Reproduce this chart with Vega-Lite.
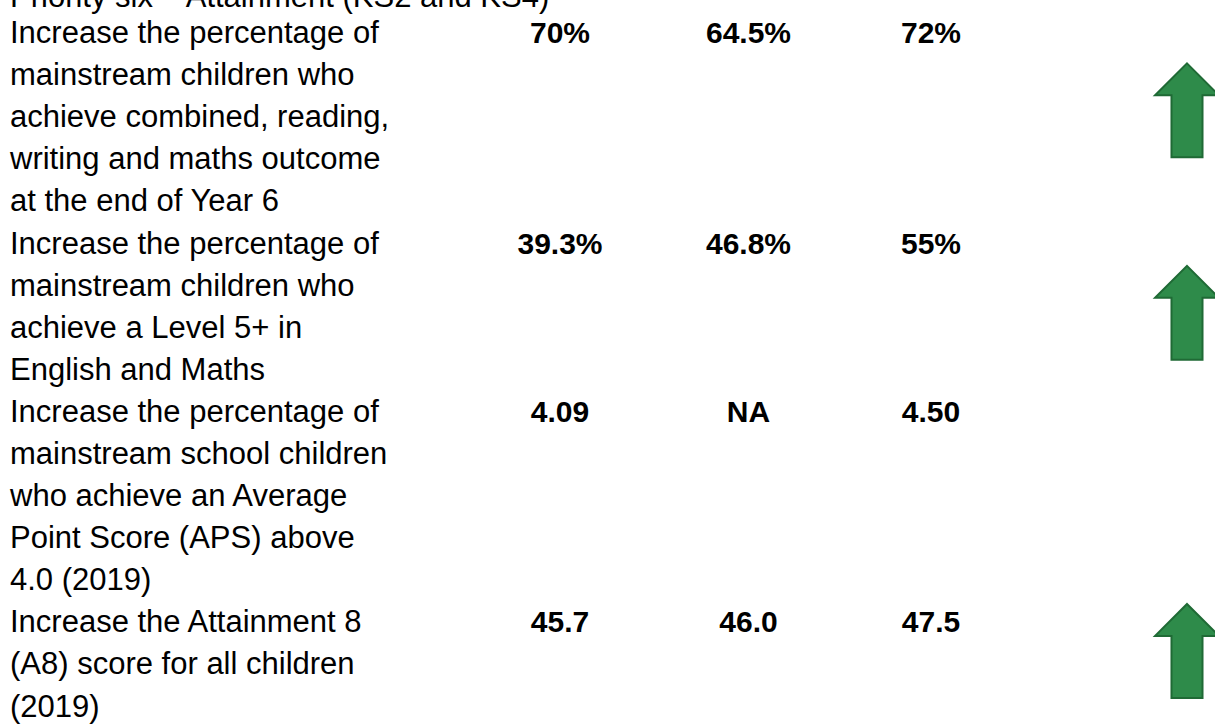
{
  "$schema": "https://vega.github.io/schema/vega-lite/v6.json",
  "width": 1215,
  "height": 724,
  "padding": 0,
  "autosize": {"type": "none"},
  "background": "white",
  "config": {"view": {"stroke": null}},
  "data": {
    "values": [
      {"line": 0, "label": "Increase the percentage of\nmainstream children who\nachieve combined, reading,\nwriting and maths outcome\nat the end of Year 6", "baseline": "70%", "current": "64.5%", "target": "72%", "arrowLine": 1.6},
      {"line": 5, "label": "Increase the percentage of\nmainstream children who\nachieve a Level 5+ in\nEnglish and Maths", "baseline": "39.3%", "current": "46.8%", "target": "55%", "arrowLine": 6.41},
      {"line": 9, "label": "Increase the percentage of\nmainstream school children\nwho achieve an Average\nPoint Score (APS) above\n4.0 (2019)", "baseline": "4.09", "current": "NA", "target": "4.50", "arrowLine": null},
      {"line": 14, "label": "Increase the Attainment 8\n(A8) score for all children\n(2019)", "baseline": "45.7", "current": "46.0", "target": "47.5", "arrowLine": 14.44}
    ]
  },
  "layer": [
    {
      "data": {"values": [{"line": -0.855, "text": "Priority six – Attainment (KS2 and KS4)"}]},
      "mark": {"type": "text", "align": "left", "baseline": "alphabetic", "font": "Liberation Sans", "fontSize": 31, "color": "#000000"},
      "encoding": {
        "x": {"datum": 0, "type": "quantitative", "scale": {"type": "linear", "domain": [0, 1, 2, 3, 4], "range": [10, 560, 748.5, 931, 1187]}, "axis": null},
        "y": {"field": "line", "type": "quantitative", "scale": {"type": "linear", "domain": [0, 16], "range": [43, 716.6], "zero": false, "nice": false}, "axis": null},
        "text": {"field": "text"}
      }
    },
    {
      "mark": {"type": "text", "align": "left", "baseline": "alphabetic", "font": "Liberation Sans", "fontSize": 31, "lineBreak": "\n", "lineHeight": 42.1, "color": "#000000"},
      "encoding": {
        "x": {"datum": 0, "type": "quantitative", "scale": {"type": "linear", "domain": [0, 1, 2, 3, 4], "range": [10, 560, 748.5, 931, 1187]}, "axis": null},
        "y": {"field": "line", "type": "quantitative", "scale": {"type": "linear", "domain": [0, 16], "range": [43, 716.6], "zero": false, "nice": false}, "axis": null},
        "text": {"field": "label"}
      }
    },
    {
      "mark": {"type": "text", "align": "center", "baseline": "alphabetic", "font": "Liberation Sans", "fontSize": 30, "fontWeight": "bold", "color": "#000000"},
      "encoding": {
        "x": {"datum": 1, "type": "quantitative", "axis": null},
        "y": {"field": "line", "type": "quantitative", "axis": null},
        "text": {"field": "baseline"}
      }
    },
    {
      "mark": {"type": "text", "align": "center", "baseline": "alphabetic", "font": "Liberation Sans", "fontSize": 30, "fontWeight": "bold", "color": "#000000"},
      "encoding": {
        "x": {"datum": 2, "type": "quantitative", "axis": null},
        "y": {"field": "line", "type": "quantitative", "axis": null},
        "text": {"field": "current"}
      }
    },
    {
      "mark": {"type": "text", "align": "center", "baseline": "alphabetic", "font": "Liberation Sans", "fontSize": 30, "fontWeight": "bold", "color": "#000000"},
      "encoding": {
        "x": {"datum": 3, "type": "quantitative", "axis": null},
        "y": {"field": "line", "type": "quantitative", "axis": null},
        "text": {"field": "target"}
      }
    },
    {
      "mark": {"type": "point", "shape": "M0,-1L0.68,-0.32L0.33,-0.32L0.33,1L-0.33,1L-0.33,-0.32L-0.68,-0.32Z", "size": 8836, "filled": true, "fill": "#2e8b4a", "stroke": "#1f6a35", "strokeWidth": 2, "opacity": 1, "fillOpacity": 1},
      "encoding": {
        "x": {"datum": 4, "type": "quantitative", "axis": null},
        "y": {"field": "arrowLine", "type": "quantitative", "axis": null}
      }
    }
  ]
}
